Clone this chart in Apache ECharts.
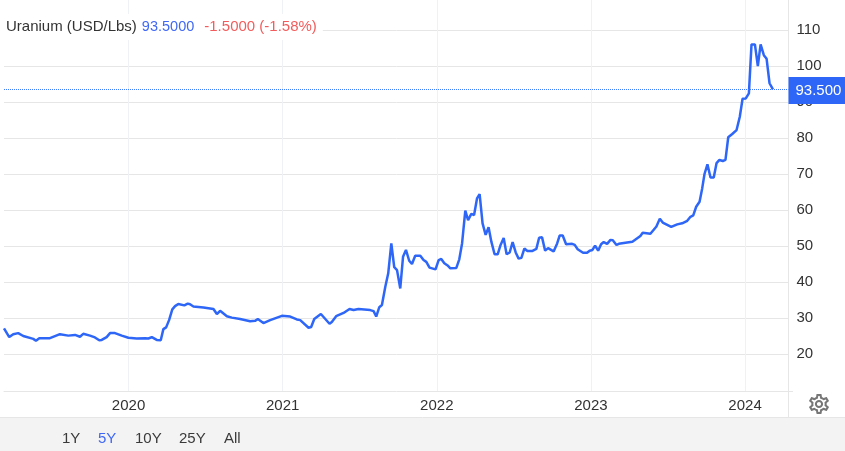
<!DOCTYPE html>
<html>
<head>
<meta charset="utf-8">
<title>Uranium</title>
<style>
  html, body { margin: 0; padding: 0; background: #fff; }
  #chart { width: 845px; height: 451px; }
</style>
</head>
<body>
<div id="chart"></div>
<script src="https://cdn.jsdelivr.net/npm/echarts@6/dist/echarts.min.js"></script>
<script>
// dates as decimal years
const dates = [
  2019.192, 2019.226, 2019.252, 2019.284, 2019.317, 2019.382, 2019.399, 2019.421, 2019.490, 2019.555,
  2019.609, 2019.653, 2019.685, 2019.706, 2019.750, 2019.782, 2019.810, 2019.826, 2019.858, 2019.880,
  2019.912, 2019.956, 2019.999, 2020.053, 2020.107, 2020.129, 2020.151, 2020.183, 2020.209, 2020.226,
  2020.244, 2020.263, 2020.284, 2020.302, 2020.323, 2020.362, 2020.384, 2020.399, 2020.421, 2020.486,
  2020.551, 2020.573, 2020.594, 2020.638, 2020.670, 2020.724, 2020.789, 2020.821, 2020.839, 2020.875,
  2020.919, 2020.995, 2021.049, 2021.092, 2021.114, 2021.168, 2021.185, 2021.205, 2021.248, 2021.304,
  2021.319, 2021.347, 2021.395, 2021.434, 2021.460, 2021.492, 2021.568, 2021.590, 2021.607, 2021.627,
  2021.644, 2021.666, 2021.685, 2021.705, 2021.724, 2021.742, 2021.763, 2021.781, 2021.800, 2021.821,
  2021.839, 2021.860, 2021.893, 2021.914, 2021.932, 2021.953, 2021.992, 2022.012, 2022.029, 2022.049,
  2022.070, 2022.088, 2022.127, 2022.146, 2022.164, 2022.185, 2022.203, 2022.224, 2022.242, 2022.261,
  2022.278, 2022.297, 2022.317, 2022.336, 2022.354, 2022.375, 2022.395, 2022.414, 2022.434, 2022.453,
  2022.473, 2022.492, 2022.512, 2022.531, 2022.549, 2022.568, 2022.588, 2022.618, 2022.646, 2022.664,
  2022.683, 2022.703, 2022.722, 2022.758, 2022.781, 2022.797, 2022.817, 2022.839, 2022.878, 2022.895,
  2022.914, 2022.949, 2022.975, 2022.992, 2023.010, 2023.027, 2023.047, 2023.066, 2023.083, 2023.105,
  2023.127, 2023.142, 2023.166, 2023.181, 2023.192, 2023.224, 2023.269, 2023.321, 2023.336, 2023.386,
  2023.425, 2023.447, 2023.466, 2023.521, 2023.560, 2023.592, 2023.625, 2023.646, 2023.664, 2023.683,
  2023.705, 2023.722, 2023.737, 2023.756, 2023.776, 2023.797, 2023.815, 2023.834, 2023.856, 2023.873,
  2023.891, 2023.917, 2023.945, 2023.966, 2023.984, 2024.005, 2024.025, 2024.042, 2024.064, 2024.083,
  2024.101, 2024.122, 2024.140, 2024.159, 2024.181
];
const prices = [
  27.1, 24.7, 25.5, 25.8, 25.0, 24.2, 23.7, 24.4, 24.4, 25.5,
  25.1, 25.3, 24.8, 25.6, 25.1, 24.6, 23.8, 23.9, 24.7, 25.8,
  25.8, 25.1, 24.5, 24.3, 24.4, 24.3, 24.7, 23.9, 23.8, 26.9,
  27.4, 29.4, 32.4, 33.3, 33.9, 33.5, 34.0, 33.8, 33.2, 32.9,
  32.5, 31.1, 32.0, 30.5, 30.1, 29.7, 29.1, 29.2, 29.7, 28.6,
  29.4, 30.6, 30.4, 29.6, 29.4, 27.3, 27.5, 29.7, 31.1, 28.4,
  28.9, 30.5, 31.4, 32.5, 32.2, 32.5, 32.2, 31.9, 30.4, 33.0,
  33.6, 38.7, 42.4, 50.7, 44.1, 43.3, 38.2, 47.0, 48.9, 45.9,
  45.0, 47.3, 47.3, 46.1, 45.6, 44.0, 43.5, 46.1, 46.4, 45.2,
  44.6, 43.8, 43.9, 46.3, 50.7, 59.8, 57.2, 58.9, 58.6, 63.2,
  64.4, 56.3, 53.1, 55.2, 51.2, 47.7, 47.7, 50.3, 52.2, 47.7,
  48.2, 51.1, 48.2, 46.5, 46.7, 49.3, 48.6, 48.6, 49.2, 52.3,
  52.4, 48.7, 49.4, 48.5, 50.7, 52.9, 52.9, 50.5, 50.6, 50.3,
  49.1, 48.1, 48.1, 48.7, 48.9, 50.1, 48.7, 50.5, 51.1, 50.6,
  51.7, 51.6, 50.3, 50.6, 50.1, 50.9, 51.2, 52.8, 53.7, 53.4,
  55.4, 57.6, 56.5, 55.3, 56.0, 56.3, 57.0, 58.1, 58.5, 60.9,
  62.3, 66.0, 70.0, 72.7, 69.0, 69.0, 73.0, 73.9, 73.6, 73.9,
  80.2, 81.1, 82.2, 85.9, 90.9, 91.0, 92.4, 106.0, 106.0, 100.0,
  106.0, 103.0, 102.0, 95.2, 93.5
];
const yearTicks = [2020, 2021, 2022, 2023, 2024];
const priceTicks = [20, 30, 40, 50, 60, 70, 80, 90, 100, 110];
const ranges = ['1Y', '5Y', '10Y', '25Y', 'All'];
const rangeX = [62, 98, 135, 179, 224];
const lastPrice = 93.5;

const gearPath = 'M19.43 12.98c.04-.32.07-.64.07-.98 0-.34-.03-.66-.07-.98l2.11-1.65c.19-.15.24-.42.12-.64l-2-3.46c-.09-.16-.26-.25-.44-.25-.06 0-.12.01-.17.03l-2.49 1c-.52-.4-1.08-.73-1.69-.98l-.38-2.65C14.46 2.18 14.25 2 14 2h-4c-.25 0-.46.18-.49.42l-.38 2.65c-.61.25-1.17.59-1.69.98l-2.49-1c-.06-.02-.12-.03-.18-.03-.17 0-.34.09-.43.25l-2 3.46c-.13.22-.07.49.12.64l2.11 1.65c-.04.32-.07.65-.07.98 0 .33.03.66.07.98l-2.11 1.65c-.19.15-.24.42-.12.64l2 3.46c.09.16.26.25.44.25.06 0 .12-.01.17-.03l2.49-1c.52.4 1.08.73 1.69.98l.38 2.65c.03.24.24.42.49.42h4c.25 0 .46-.18.49-.42l.38-2.65c.61-.25 1.17-.59 1.69-.98l2.49 1c.06.02.12.03.18.03.17 0 .34-.09.43-.25l2-3.46c.12-.22.07-.49-.12-.64l-2.11-1.65zm-1.98-1.71c.04.31.05.52.05.73 0 .21-.02.43-.05.73l-.14 1.13.89.7 1.08.84-.7 1.21-1.27-.51-1.04-.42-.9.68c-.43.32-.84.56-1.25.73l-1.06.43-.16 1.13-.2 1.35h-1.4l-.19-1.35-.16-1.13-1.06-.43c-.43-.18-.83-.41-1.23-.71l-.91-.7-1.06.43-1.27.51-.7-1.21 1.08-.84.89-.7-.14-1.13c-.03-.31-.05-.54-.05-.74s.02-.43.05-.73l.14-1.13-.89-.7-1.08-.84.7-1.21 1.27.51 1.04.42.9-.68c.43-.32.84-.56 1.25-.73l1.06-.43.16-1.13.2-1.35h1.39l.19 1.35.16 1.13 1.06.43c.43.18.83.41 1.23.71l.91.7 1.06-.43 1.27-.51.7 1.21-1.07.85-.89.7.14 1.13zM12 8c-2.21 0-4 1.79-4 4s1.79 4 4 4 4-1.79 4-4-1.79-4-4-4zm0 6c-1.1 0-2-.9-2-2s.9-2 2-2 2 .9 2 2-.9 2-2 2z';

const FONT = '"Liberation Sans", Arial, sans-serif';
const chart = echarts.init(document.getElementById('chart'), null, { renderer: 'canvas' });

// bottom panel and range buttons
const graphics = [
  { type: 'rect', z: -1, shape: { x: 0, y: 417.5, width: 845, height: 34 }, style: { fill: '#f3f3f3' } },
  { type: 'line', shape: { x1: 0, y1: 417.5, x2: 845, y2: 417.5 }, style: { stroke: '#e6e6e6', lineWidth: 1 } },
  { type: 'line', shape: { x1: 788.5, y1: 391, x2: 788.5, y2: 417 }, style: { stroke: '#e6e6e6', lineWidth: 1 } },
  { type: 'line', shape: { x1: 788, y1: 391.5, x2: 793, y2: 391.5 }, style: { stroke: '#e6e6e6', lineWidth: 1 } }
];
ranges.forEach((r, i) => {
  graphics.push({
    type: 'text',
    x: rangeX[i],
    y: 439,
    style: {
      text: r,
      font: '15px ' + FONT,
      fill: r === '5Y' ? '#3f68f5' : '#3a3a3a',
      verticalAlign: 'middle'
    }
  });
});

chart.setOption({
  animation: false,
  backgroundColor: '#fff',
  title: {
    left: 0,
    top: 14,
    padding: [4, 6, 4, 6],
    backgroundColor: '#fff',
    text: '{name|Uranium (USD/Lbs)} {price|93.5000}  {change|-1.5000 (-1.58%)}',
    textStyle: {
      fontWeight: 'normal',
      rich: {
        name: { fontFamily: FONT, fontSize: 15, fontWeight: 'normal', color: '#333' },
        price: { fontFamily: FONT, fontSize: 14.5, fontWeight: 'normal', color: '#3f68f5' },
        change: { fontFamily: FONT, fontSize: 15, fontWeight: 'normal', color: '#f25c5c' }
      }
    }
  },
  grid: { left: 4, right: 56.5, top: 0, bottom: 60, containLabel: false },
  xAxis: {
    type: 'value',
    min: 2019.192,
    max: 2024.282,
    axisLine: { show: true, lineStyle: { color: '#e6e6e6' } },
    axisTick: { show: false, customValues: yearTicks },
    splitLine: { show: true, lineStyle: { color: '#eef1f5' } },
    axisLabel: {
      customValues: yearTicks,
      formatter: v => String(v),
      color: '#333',
      fontFamily: FONT,
      fontSize: 15,
      margin: 7
    }
  },
  yAxis: {
    type: 'value',
    position: 'right',
    min: 9.72,
    max: 118.33,
    axisLine: { show: true, lineStyle: { color: '#e6e6e6' } },
    axisTick: { show: false, customValues: priceTicks },
    splitLine: { show: true, lineStyle: { color: '#e6e6e6' } },
    axisLabel: {
      customValues: priceTicks,
      color: '#333',
      fontFamily: FONT,
      fontSize: 15,
      margin: 8
    }
  },
  series: [{
    name: 'Uranium',
    type: 'line',
    data: dates.map((d, i) => [d, prices[i]]),
    showSymbol: false,
    lineStyle: { color: '#2e66f7', width: 2.5 },
    itemStyle: { color: '#2e66f7' },
    markLine: {
      silent: true,
      symbol: 'none',
      lineStyle: { color: '#3f78ff', type: [1, 1], width: 1 },
      label: {
        position: 'end',
        distance: 0,
        offset: [0, 1],
        formatter: lastPrice.toFixed(3),
        color: '#fff',
        backgroundColor: '#2e66f7',
        fontFamily: FONT,
        fontSize: 15,
        padding: [6, 4, 6, 7]
      },
      data: [{ yAxis: lastPrice }]
    }
  }, {
    // settings icon, graphic component has no path type
    type: 'custom',
    coordinateSystem: 'none',
    silent: true,
    data: [[0]],
    renderItem: () => ({
      type: 'path',
      shape: { pathData: gearPath, layout: 'cover', x: 809, y: 394, width: 20, height: 20 },
      style: { fill: '#777777' }
    })
  }],
  graphic: graphics
});
</script>
</body>
</html>
